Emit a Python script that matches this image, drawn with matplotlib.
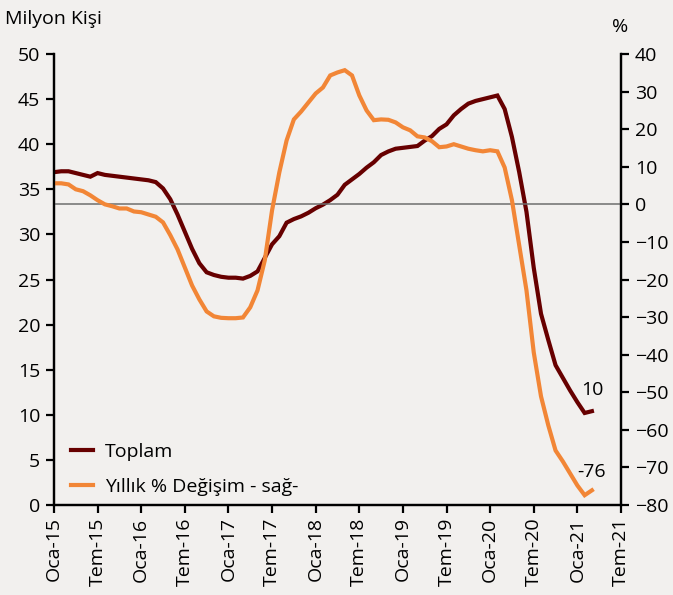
import numpy as np
import matplotlib.pyplot as plt

plt.rcParams['font.family'] = ['Open Sans', 'DejaVu Sans']

# aylik seriler, Oca-15'ten baslayarak
toplam = [36.9, 37.0, 37.0, 36.8, 36.6, 36.4, 36.8, 36.6, 36.5, 36.4,
          36.3, 36.2, 36.1, 36.0, 35.8, 35.1, 33.9, 32.2, 30.3, 28.4,
          26.8, 25.8, 25.5, 25.3, 25.2, 25.2, 25.1, 25.4, 25.9, 27.4,
          28.9, 29.8, 31.3, 31.7, 32.0, 32.4, 32.9, 33.3, 33.8, 34.4,
          35.5, 36.1, 36.7, 37.4, 38.0, 38.8, 39.2, 39.5, 39.6, 39.7,
          39.8, 40.4, 40.9, 41.7, 42.2, 43.2, 43.9, 44.5, 44.8, 45.0,
          45.2, 45.4, 43.9, 40.8, 36.9, 32.5, 26.3, 21.2, 18.3, 15.5,
          14.1, 12.7, 11.4, 10.2, 10.4]
yillik = [5.6, 5.6, 5.3, 4.0, 3.5, 2.4, 1.1, 0.0, -0.5, -1.1,
          -1.1, -1.9, -2.1, -2.7, -3.3, -4.8, -8.2, -12.0, -16.8, -21.6,
          -25.3, -28.5, -29.8, -30.2, -30.3, -30.3, -30.1, -27.4, -22.9, -14.9,
          -1.6, 8.5, 17.0, 22.6, 24.7, 27.1, 29.5, 31.1, 34.3, 35.1,
          35.7, 34.3, 29.0, 25.0, 22.4, 22.6, 22.5, 21.8, 20.5, 19.7,
          18.1, 17.8, 16.8, 15.2, 15.4, 16.0, 15.4, 14.8, 14.4, 14.1,
          14.4, 14.1, 9.8, 1.1, -10.9, -22.9, -39.4, -51.1, -58.8, -65.5,
          -68.4, -71.6, -74.8, -77.4, -76.1]
tick_labels = ['Oca-15', 'Tem-15', 'Oca-16', 'Tem-16', 'Oca-17', 'Tem-17',
               'Oca-18', 'Tem-18', 'Oca-19', 'Tem-19', 'Oca-20', 'Tem-20',
               'Oca-21', 'Tem-21']

bg = '#f2f0ee'
koyu = '#670000'
turuncu = '#f28636'
fs = 14

x = np.arange(len(toplam))

fig = plt.figure(figsize=(6.73, 5.95), dpi=100, facecolor=bg)
ax = fig.add_axes([0.0802, 0.1513, 0.8425, 0.7579], facecolor=bg)
ax2 = ax.twinx()

l1, = ax.plot(x, toplam, color=koyu, lw=3, solid_joinstyle='miter')
l2, = ax2.plot(x, yillik, color=turuncu, lw=3, solid_joinstyle='miter')
ax2.axhline(0, color='#6e6e6e', lw=1.1, zorder=0)

ax.set_xlim(0, 78)
ax.set_ylim(0, 50)
ax2.set_ylim(-80, 40)
ax.set_yticks(np.arange(0, 51, 5))
ax2.set_yticks(np.arange(-80, 41, 10))
ax.set_xticks(np.arange(0, 79, 6))
ax.set_xticklabels(tick_labels, rotation=90)

for a in (ax, ax2):
    a.spines['top'].set_visible(False)
    for s in a.spines.values():
        s.set_linewidth(1.6)
    a.tick_params(direction='out', length=6, width=1.6, labelsize=fs,
                  colors='black', pad=4)
ax.tick_params(axis='x', pad=3)

fig.text(0.007, 0.968, 'Milyon Kişi', fontsize=fs, ha='left', va='center')
fig.text(0.922, 0.955, '%', fontsize=fs, ha='center', va='center')

ax2.text(x[-1], yillik[-1] + 2.6, '%d' % round(yillik[-1]), fontsize=fs,
         ha='center', va='bottom')
ax.text(x[-1], toplam[-1] + 1.3, '%d' % round(toplam[-1]), fontsize=fs,
        ha='center', va='bottom')

ax.legend([l1, l2], ['Toplam', 'Yıllık % Değişim - sağ-'], loc='lower left',
          frameon=False, fontsize=fs, handlelength=1.1, handletextpad=0.6,
          labelspacing=0.85, bbox_to_anchor=(0.0, -0.018))

fig.savefig('out.png', dpi=100, facecolor=bg)
